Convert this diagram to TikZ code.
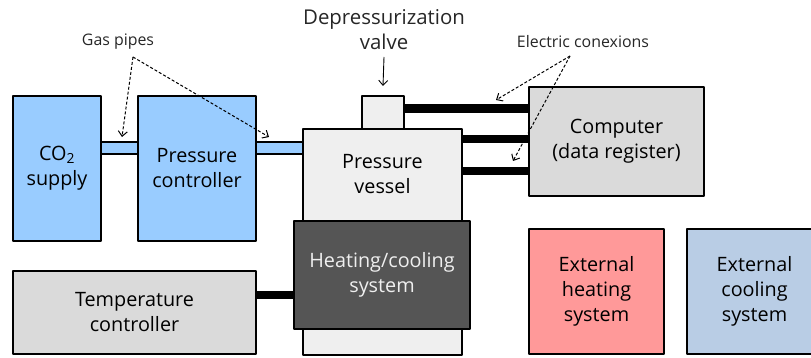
\documentclass[tikz,border=0pt]{standalone}
\usepackage{fontspec}
\setmainfont{Open Sans}
\usetikzlibrary{arrows.meta,backgrounds}

\definecolor{gasblue}{HTML}{99CCFF}
\definecolor{vesselgray}{HTML}{EFEFEF}
\definecolor{boxgray}{HTML}{DADADA}
\definecolor{heatgray}{HTML}{555555}
\definecolor{heatred}{HTML}{FF9999}
\definecolor{coolblue}{HTML}{B9CDE5}

\begin{document}
\begin{tikzpicture}[x=1pt, y=-1pt, line join=round, font=\fontsize{19.8}{25}\selectfont,
	box/.style={draw, line width=1.6pt, inner sep=0pt, outer sep=0pt, anchor=north west, align=center},
	pipe/.style={draw, line width=1.2pt, fill=gasblue},
	wire/.style={line width=8.5pt, line cap=butt},
	note/.style={font=\fontsize{15.9}{18}\selectfont, text=black!85},
	pointer/.style={dash pattern=on 3pt off 2pt, line width=1pt, -{Straight Barb[length=5pt, width=9pt]}}]
	\useasboundingbox (0,0) rectangle (811,358);
	\clip (0,0) rectangle (811,358);

	% Cadena de gas
	\node[box, fill=gasblue, minimum width=88pt, minimum height=145pt] (co2) at (13,96) {CO\textsubscript{2}\\supply};
	\node[box, fill=gasblue, minimum width=118pt, minimum height=145pt] (pc) at (138,96) {Pressure\\controller};

	% Recipiente y valvula
	\node[box, fill=vesselgray, minimum width=159pt, minimum height=226pt] (vessel) at (303,129) {};
	\node[align=center] (vesseltext) at (382.5,174) {Pressure\\vessel};
	\node[box, fill=vesselgray, minimum width=42pt, minimum height=33pt] (valve) at (362,96) {};
	\node[box, fill=heatgray, text=vesselgray, minimum width=176pt, minimum height=108pt] (heat) at (294,221) {Heating/cooling\\system};

	% Control y registro
	\node[box, fill=boxgray, minimum width=243pt, minimum height=83pt] (temp) at (13,271) {Temperature\\controller};
	\node[box, fill=boxgray, minimum width=175pt, minimum height=109pt] (comp) at (529,87) {Computer\\(data register)};

	% Sistemas externos
	\node[box, fill=heatred, minimum width=135pt, minimum height=125pt] (exth) at (529,229) {External\\heating\\system};
	\node[box, fill=coolblue, minimum width=135pt, minimum height=125pt] (extc) at (687,229) {External\\cooling\\system};

	% Tuberias de gas
	\begin{scope}[on background layer]
		\draw[pipe] (co2.east |- 0,142) rectangle (pc.west |- 0,154);
		\draw[pipe] (pc.east |- 0,142) rectangle (vessel.west |- 0,154);
	\end{scope}

	% Conexiones electricas
	\draw[wire] (valve.east |- 0,108.5) -- (comp.west |- 0,108.5);
	\draw[wire] (vessel.east |- 0,139) -- (comp.west |- 0,139);
	\draw[wire] (vessel.east |- 0,171) -- (comp.west |- 0,171);
	\draw[wire] (temp.east |- 0,295) -- (heat.west |- 0,295);

	% Etiquetas
	\node[note] (gaspipes) at (118,42) {Gas pipes};
	\node[note] (elec) at (583,42) {Electric conexions};
	\node[align=center, font=\fontsize{20.4}{25}\selectfont, text=black!85] (valvelabel) at (384,30) {Depressurization\\valve};

	\coordinate (gpfrom) at (133,57);
	\coordinate (gpA) at (122,137);
	\coordinate (gpB) at (269,137);
	\draw[pointer] (gpfrom) -- (gpA);
	\draw[pointer] (gpfrom) -- (gpB);

	\coordinate (elfrom) at (570,56);
	\coordinate (elA) at (496,100);
	\coordinate (elB) at (513,161);
	\draw[pointer] (elfrom) -- (elA);
	\draw[pointer] (elfrom) -- (elB);

	\draw[line width=0.9pt, -{Straight Barb[length=5pt, width=9pt]}] (valvelabel.south |- 0,57) -- ([yshift=10pt]valve.north);
\end{tikzpicture}
\end{document}
